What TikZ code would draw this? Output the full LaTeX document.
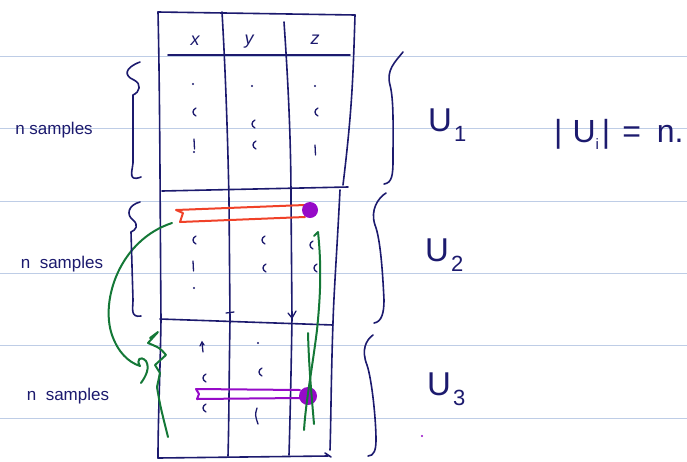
\documentclass[tikz,border=0pt]{standalone}
\usepackage{fontspec}
\setmainfont{Liberation Sans}
\begin{document}
\begin{tikzpicture}[x=1pt,y=-1pt,
  ink/.style={draw=navy,line width=1.6pt,line cap=round,line join=round},
  thin ink/.style={draw=navy,line width=1.3pt,line cap=round},
  rule/.style={draw=rulecol,line width=1pt},
  gpen/.style={draw=gcol,line width=2pt,line cap=round,line join=round},
  rpen/.style={draw=rcol,line width=2pt,line cap=round,line join=round},
  ppen/.style={draw=pcol,line width=2pt,line cap=round,line join=round},
  lbl/.style={text=navy,inner sep=0pt,font=\fontsize{17}{20}\selectfont},
  hdr/.style={text=navy,inner sep=0pt,font=\itshape\fontsize{18}{20}\selectfont},
  ulbl/.style={text=navy,inner sep=0pt,font=\fontsize{33}{35}\selectfont},
  paren/.pic={\draw[thin ink] (2,-4) .. controls (-2,-2) and (-2,2) .. (2,4);},
  dotm/.pic={\fill[navy] (0,0) circle (1.1pt);},
  barm/.pic={\draw[thin ink] (0,-5) -- (0.5,5);},
]
\definecolor{navy}{RGB}{28,26,110}
\definecolor{rulecol}{RGB}{190,205,230}
\definecolor{gcol}{RGB}{20,120,55}
\definecolor{rcol}{RGB}{240,65,40}
\definecolor{pcol}{RGB}{150,10,200}
\useasboundingbox (0,0) rectangle (687,461);
\fill[white] (0,0) rectangle (687,461);
% ruled lines
\foreach \yy in {56,128,201,273,345,418} \draw[rule] (0,\yy) -- (687,\yy);

% table
\draw[ink] (158,12) -- (355,15);
\draw[ink] (158,12) .. controls (160,100) and (160,200) .. (161,320) .. controls (160,380) and (158,420) .. (158,458);
\draw[ink] (222,12) .. controls (226,80) and (228,150) .. (229,200) -- (230,320) .. controls (229,380) and (229,420) .. (228,456);
\draw[ink] (284,22) .. controls (288,80) and (291,140) .. (291,200) -- (292,318) .. controls (291,380) and (290,420) .. (289,455);
\draw[ink] (355,15) .. controls (353,80) and (352,110) .. (343,185);
\draw[ink] (168,55) -- (350,55);
\draw[ink] (162,191) -- (348,187);
\draw[ink] (340,190) .. controls (337,250) and (334,290) .. (333,322);
\draw[ink] (160,319) -- (333,325);
\draw[ink] (333,322) .. controls (331,380) and (331,420) .. (330,450);
\draw[ink] (158,458) -- (328,456);
\draw[ink] (325,453) -- (331,457);
\draw[thin ink] (226,313) -- (234,312);
\draw[thin ink] (288,313) -- (292,318) -- (296,311);

% headers
\node[hdr] (hx) at (195,41) {x};
\node[hdr] (hy) at (249,42) {y};
\node[hdr] (hz) at (315,40) {z};

% cell marks section 1
\pic at (193,84) {dotm}; \pic at (252,86) {dotm}; \pic at (315,86) {dotm};
\pic at (194,112) {paren}; \pic at (253,124) {paren}; \pic at (316,112) {paren};
\pic at (194,144) {barm}; \pic at (194,152) {dotm}; \pic at (254,145) {paren}; \pic at (315,150) {barm};
% section 2
\pic at (194,240) {paren}; \pic at (263,240) {paren}; \pic at (311,245) {paren};
\pic at (193,266) {barm}; \pic at (264,268) {paren}; \pic at (315,268) {paren};
\pic at (194,288) {dotm}; \pic at (258,207) {dotm};
% section 3
\draw[thin ink] (202,343) -- (203,352); \draw[thin ink] (200,346) -- (202,342) -- (204,345);
\pic at (258,343) {dotm};
\pic at (204,378) {paren}; \pic at (260,372) {paren};
\pic at (204,408) {paren}; \draw[thin ink] (257,408) .. controls (255,415) .. (258,424);

% red loop and purple dot
\draw[rpen] (305,205) -- (176,210) -- (183,213) -- (180,222) -- (305,217);
\fill[pcol] (310,210) circle (8pt);
% purple loop
\draw[ppen] (300,390) -- (196,389) -- (199,394) -- (197,399) -- (300,398);
\fill[pcol] (308,396) circle (9pt);
% green strokes
\draw[gpen] (172,223) .. controls (120,240) and (100,300) .. (112,335) .. controls (118,352) and (128,362) .. (140,366)
  .. controls (136,360) and (140,355) .. (146,361) .. controls (150,368) and (146,376) .. (141,383);
\draw[gpen] (150,338) -- (158,332) -- (148,343) .. controls (160,348) .. (166,355) -- (155,365) -- (160,373) -- (157,387) .. controls (160,405) .. (168,437);
\draw[gpen] (314,236) -- (318,232) .. controls (322,270) and (320,300) .. (317,330) .. controls (312,370) and (306,400) .. (304,430);
\draw[gpen] (308,333) .. controls (309,370) and (312,400) .. (314,424);

% left braces
\draw[ink] (140,62) .. controls (124,68) and (124,76) .. (134,80) .. controls (142,84) and (140,92) .. (133,95) -- (133,163) .. controls (132,172) and (128,182) .. (141,177);
\draw[ink] (140,202) .. controls (128,205) and (126,215) .. (133,220) .. controls (139,225) and (136,230) .. (131,232) -- (133,300) .. controls (133,308) and (130,318) .. (141,316);

% n samples labels
\node[lbl] (ns1) at (54,130) {n samples};
\node[lbl] (ns2) at (62,264) {n\ \ samples};
\node[lbl] (ns3) at (68,396) {n\ \ samples};

% right braces
\draw[ink] (403,52) .. controls (395,62) and (386,70) .. (390,85) .. controls (394,100) and (393,130) .. (393,160) .. controls (393,175) and (392,183) .. (384,184);
\draw[ink] (386,193) .. controls (378,198) and (370,210) .. (375,225) .. controls (381,240) and (383,280) .. (384,300) .. controls (384,312) and (382,322) .. (374,323);
\draw[ink] (373,335) .. controls (366,340) and (361,350) .. (367,365) .. controls (372,380) and (376,420) .. (376,440) .. controls (376,450) and (374,456) .. (368,456);

% U labels
\node[ulbl,anchor=south west] (u1) at (428,142) {U\hspace{2pt}\raisebox{-10pt}{\fontsize{22}{22}\selectfont 1}};
\node[ulbl,anchor=south west] (u2) at (425,272) {U\hspace{2pt}\raisebox{-10pt}{\fontsize{22}{22}\selectfont 2}};
\node[ulbl,anchor=south west] (u3) at (427,406) {U\hspace{2pt}\raisebox{-10pt}{\fontsize{22}{22}\selectfont 3}};
\node[ulbl,anchor=south west,font=\fontsize{32}{34}\selectfont] (ui) at (554,150) {|\hspace{10pt}U\raisebox{-7pt}{\fontsize{15}{15}\selectfont i}\hspace{3pt}|\hspace{12pt}=\hspace{16pt}n.};
\fill[pcol] (422,436) circle (1.2pt);
\end{tikzpicture}
\end{document}
